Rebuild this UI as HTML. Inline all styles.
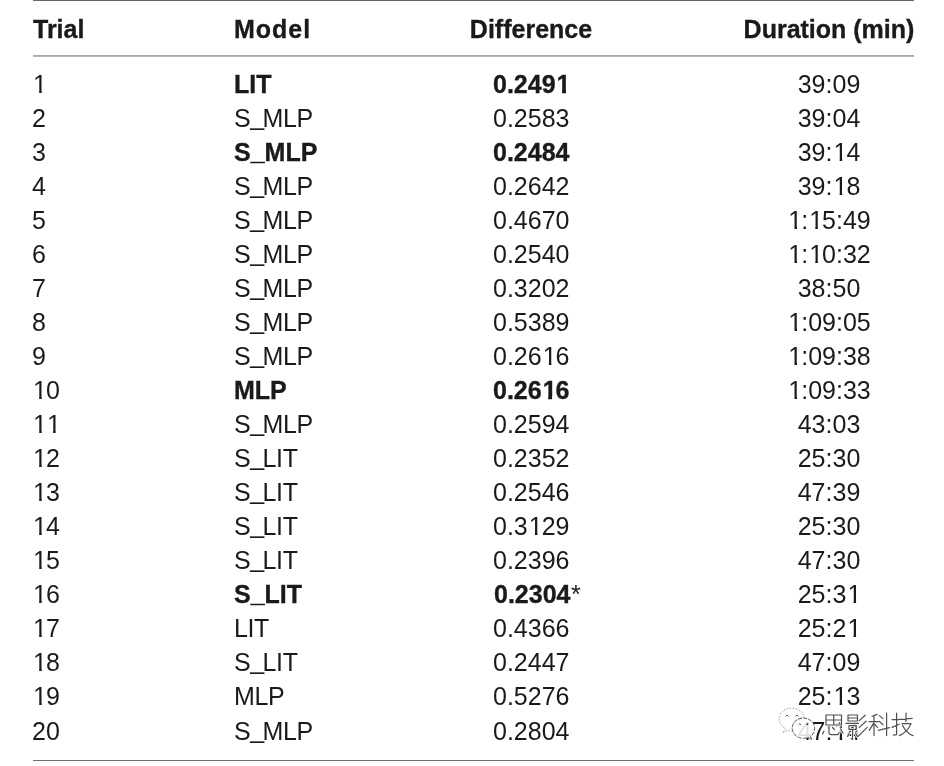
<!DOCTYPE html>
<html><head><meta charset="utf-8">
<style>
html,body{margin:0;padding:0;background:#fff;}
body{width:944px;height:766px;position:relative;overflow:hidden;font-family:"Liberation Sans",sans-serif;color:#1a1a1a;will-change:transform;}
.line{position:absolute;left:33px;width:881px;}
.r,.h{position:absolute;left:0;width:944px;height:25px;font-size:25px;line-height:25px;white-space:nowrap;}
.c{position:absolute;top:0;}
.h .c{font-weight:bold;}
.c1{left:32px;}
.c2{left:234px;}
.c3{left:493px;}
.c4{left:729px;width:200px;text-align:center;}
.h .c3{left:431px;width:200px;text-align:center;}
.b,.h .c{font-weight:bold;-webkit-text-stroke:0.35px #1a1a1a;}
.c2{letter-spacing:-0.4px;}
.c2 .u{letter-spacing:-1.6px;}
.c2.b,.c2.b .u{letter-spacing:0;}
.h .c2{letter-spacing:1px;}
.u{position:relative;top:-2.5px;}
.b .u{top:-0.7px;}
.o{display:inline-block;position:relative;left:1px;clip-path:polygon(0 0,100% 0,100% 19px,8.7px 19px,8.7px 100%,6.2px 100%,6.2px 19px,0 19px);}
.b .o{clip-path:polygon(0 0,100% 0,100% 18px,9.4px 18px,9.4px 100%,5.5px 100%,5.5px 18px,0 18px);}
.st{font-weight:normal;margin-left:0.5px;-webkit-text-stroke:0;}
</style></head><body>
<div class="line" style="top:0;height:1px;background:#666;"></div>
<div class="line" style="top:55px;height:1px;background:#a9a9a9;"></div>
<div class="line" style="top:56px;height:1px;background:#b6b6b6;"></div>
<div class="line" style="top:760px;height:1px;background:#707070;"></div>
<div class="h" style="top:17px"><span class="c c1" style="left:33px">Trial</span><span class="c c2">Model</span><span class="c c3">Difference</span><span class="c c4">Duration (min)</span></div>
<div class="r" style="top:72px"><span class="c c1"><span class="o">1</span></span><span class="c c2 b">LIT</span><span class="c c3 b">0.249<span class="o">1</span></span><span class="c c4">39:09</span></div>
<div class="r" style="top:106px"><span class="c c1">2</span><span class="c c2">S<span class="u">_</span>MLP</span><span class="c c3">0.2583</span><span class="c c4">39:04</span></div>
<div class="r" style="top:140px"><span class="c c1">3</span><span class="c c2 b">S<span class="u">_</span>MLP</span><span class="c c3 b">0.2484</span><span class="c c4">39:<span class="o">1</span>4</span></div>
<div class="r" style="top:174px"><span class="c c1">4</span><span class="c c2">S<span class="u">_</span>MLP</span><span class="c c3">0.2642</span><span class="c c4">39:<span class="o">1</span>8</span></div>
<div class="r" style="top:208px"><span class="c c1">5</span><span class="c c2">S<span class="u">_</span>MLP</span><span class="c c3">0.4670</span><span class="c c4"><span class="o">1</span>:<span class="o">1</span>5:49</span></div>
<div class="r" style="top:242px"><span class="c c1">6</span><span class="c c2">S<span class="u">_</span>MLP</span><span class="c c3">0.2540</span><span class="c c4"><span class="o">1</span>:<span class="o">1</span>0:32</span></div>
<div class="r" style="top:276px"><span class="c c1">7</span><span class="c c2">S<span class="u">_</span>MLP</span><span class="c c3">0.3202</span><span class="c c4">38:50</span></div>
<div class="r" style="top:310px"><span class="c c1">8</span><span class="c c2">S<span class="u">_</span>MLP</span><span class="c c3">0.5389</span><span class="c c4"><span class="o">1</span>:09:05</span></div>
<div class="r" style="top:344px"><span class="c c1">9</span><span class="c c2">S<span class="u">_</span>MLP</span><span class="c c3">0.26<span class="o">1</span>6</span><span class="c c4"><span class="o">1</span>:09:38</span></div>
<div class="r" style="top:378px"><span class="c c1"><span class="o">1</span>0</span><span class="c c2 b">MLP</span><span class="c c3 b">0.26<span class="o">1</span>6</span><span class="c c4"><span class="o">1</span>:09:33</span></div>
<div class="r" style="top:412px"><span class="c c1"><span class="o">1</span><span class="o">1</span></span><span class="c c2">S<span class="u">_</span>MLP</span><span class="c c3">0.2594</span><span class="c c4">43:03</span></div>
<div class="r" style="top:446px"><span class="c c1"><span class="o">1</span>2</span><span class="c c2">S<span class="u">_</span>LIT</span><span class="c c3">0.2352</span><span class="c c4">25:30</span></div>
<div class="r" style="top:480px"><span class="c c1"><span class="o">1</span>3</span><span class="c c2">S<span class="u">_</span>LIT</span><span class="c c3">0.2546</span><span class="c c4">47:39</span></div>
<div class="r" style="top:514px"><span class="c c1"><span class="o">1</span>4</span><span class="c c2">S<span class="u">_</span>LIT</span><span class="c c3">0.3<span class="o">1</span>29</span><span class="c c4">25:30</span></div>
<div class="r" style="top:548px"><span class="c c1"><span class="o">1</span>5</span><span class="c c2">S<span class="u">_</span>LIT</span><span class="c c3">0.2396</span><span class="c c4">47:30</span></div>
<div class="r" style="top:582px"><span class="c c1"><span class="o">1</span>6</span><span class="c c2 b">S<span class="u">_</span>LIT</span><span class="c c3 b" style="left:494px">0.2304<span class="st">*</span></span><span class="c c4">25:3<span class="o">1</span></span></div>
<div class="r" style="top:616px"><span class="c c1"><span class="o">1</span>7</span><span class="c c2">LIT</span><span class="c c3">0.4366</span><span class="c c4">25:2<span class="o">1</span></span></div>
<div class="r" style="top:650px"><span class="c c1"><span class="o">1</span>8</span><span class="c c2">S<span class="u">_</span>LIT</span><span class="c c3">0.2447</span><span class="c c4">47:09</span></div>
<div class="r" style="top:684px"><span class="c c1"><span class="o">1</span>9</span><span class="c c2">MLP</span><span class="c c3">0.5276</span><span class="c c4">25:<span class="o">1</span>3</span></div>
<div class="r" style="top:719px"><span class="c c1">20</span><span class="c c2">S<span class="u">_</span>MLP</span><span class="c c3">0.2804</span><span class="c c4">47:<span class="o">1</span>4</span></div>
<svg style="position:absolute;left:0;top:0" width="944" height="766" viewBox="0 0 944 766">
<g fill="rgba(255,255,255,0.86)" stroke-linejoin="round">
<path d="M783.2,732.6 L785.6,728.6 C781.6,726.2 779.1,722.8 779.1,719 C779.1,712.8 784.6,708.2 791.6,708.2 C798,708.2 803.4,712.2 804.3,717.4 C797.6,717.6 792.2,722.4 792.2,728.2 C792.2,729.2 792.4,730.1 792.6,731 C790.8,731 789.2,730.8 787.8,730.4 Z" stroke="#9a9a9a" stroke-width="0.9" stroke-dasharray="1.6 1.4"/>
<path d="M811.8,739.6 L810.4,736.4 C813.2,734.6 814.7,731.6 814.7,728.2 C814.7,722.6 809.6,718.1 803.4,718.1 C797.2,718.1 792.2,722.6 792.2,728.2 C792.2,733.8 797.2,738.3 803.4,738.3 C805.2,738.3 806.8,738 808.2,737.4 Z" stroke="#555" stroke-width="0.95" stroke-dasharray="4 1.2"/>
</g>
<g fill="none" stroke="#444" stroke-width="0.9" stroke-linecap="round">
<path d="M785.8,716 Q787,713.6 788.2,716 M795.7,716 Q796.9,713.6 798.1,716 M798.6,724.6 Q799.8,722.4 801,724.6"/>
</g>
<circle cx="807.4" cy="724.2" r="0.9" fill="#222"/>
<g fill="none" stroke-linecap="round" stroke-linejoin="round">
<g stroke="#fff" stroke-width="3" opacity="0.9">
<path d="M826,715 H841.5 V725 H826 Z M833.7,715 V725 M826,720 H841.5 M824,731 L822.6,734 M829,726.5 V733.2 Q829.2,734.6 831,734.6 H837.6 Q838.8,734.4 839,732.4 M832.5,727.5 L834.6,729.6 M840.6,729 L843,733"/>
<path d="M848,715 H857.5 V721 H848 Z M848,718 H857.5 M846,723.4 H858.5 M849,725.6 H856.2 V729.4 H849 Z M852.6,730 V739.5 L851,738.6 M849.2,733.2 L847.6,736.4 M855.6,733 L857.2,736.2 M865.2,715.2 L859.2,720.6 M866.2,721.2 L859.2,727.4 M867.2,727.4 L858.2,736.4"/>
<path d="M877.2,714.4 L872,716.2 M869,721.6 H878.4 M874,715.6 V735.6 M873.6,723.4 L869.2,730.4 M875,724.6 L877.4,727.4 M879.4,715.6 L883,718.6 M879.4,721.4 L883,724.8 M878.4,730.4 L889.4,727.6 M886.6,713.2 V735.6"/>
<path d="M892,719.6 H899 M896.6,713.2 V734.6 L893.4,735.2 M892,727.4 L899.2,724.2 M899.4,719.4 L912.2,718.4 M906,713.2 V721.4 M902,723.6 H911 Q908,731.6 899.4,735.6 M902.6,725.4 Q906.4,733 913,735.6"/>
</g>
<g stroke="#505050" stroke-width="1.2">
<path d="M826,715 H841.5 V725 H826 Z M833.7,715 V725 M826,720 H841.5 M824,731 L822.6,734 M829,726.5 V733.2 Q829.2,734.6 831,734.6 H837.6 Q838.8,734.4 839,732.4 M832.5,727.5 L834.6,729.6 M840.6,729 L843,733"/>
<path d="M848,715 H857.5 V721 H848 Z M848,718 H857.5 M846,723.4 H858.5 M849,725.6 H856.2 V729.4 H849 Z M852.6,730 V739.5 L851,738.6 M849.2,733.2 L847.6,736.4 M855.6,733 L857.2,736.2 M865.2,715.2 L859.2,720.6 M866.2,721.2 L859.2,727.4 M867.2,727.4 L858.2,736.4"/>
<path d="M877.2,714.4 L872,716.2 M869,721.6 H878.4 M874,715.6 V735.6 M873.6,723.4 L869.2,730.4 M875,724.6 L877.4,727.4 M879.4,715.6 L883,718.6 M879.4,721.4 L883,724.8 M878.4,730.4 L889.4,727.6 M886.6,713.2 V735.6"/>
<path d="M892,719.6 H899 M896.6,713.2 V734.6 L893.4,735.2 M892,727.4 L899.2,724.2 M899.4,719.4 L912.2,718.4 M906,713.2 V721.4 M902,723.6 H911 Q908,731.6 899.4,735.6 M902.6,725.4 Q906.4,733 913,735.6"/>
</g>
</g>
</svg>

</body></html>
